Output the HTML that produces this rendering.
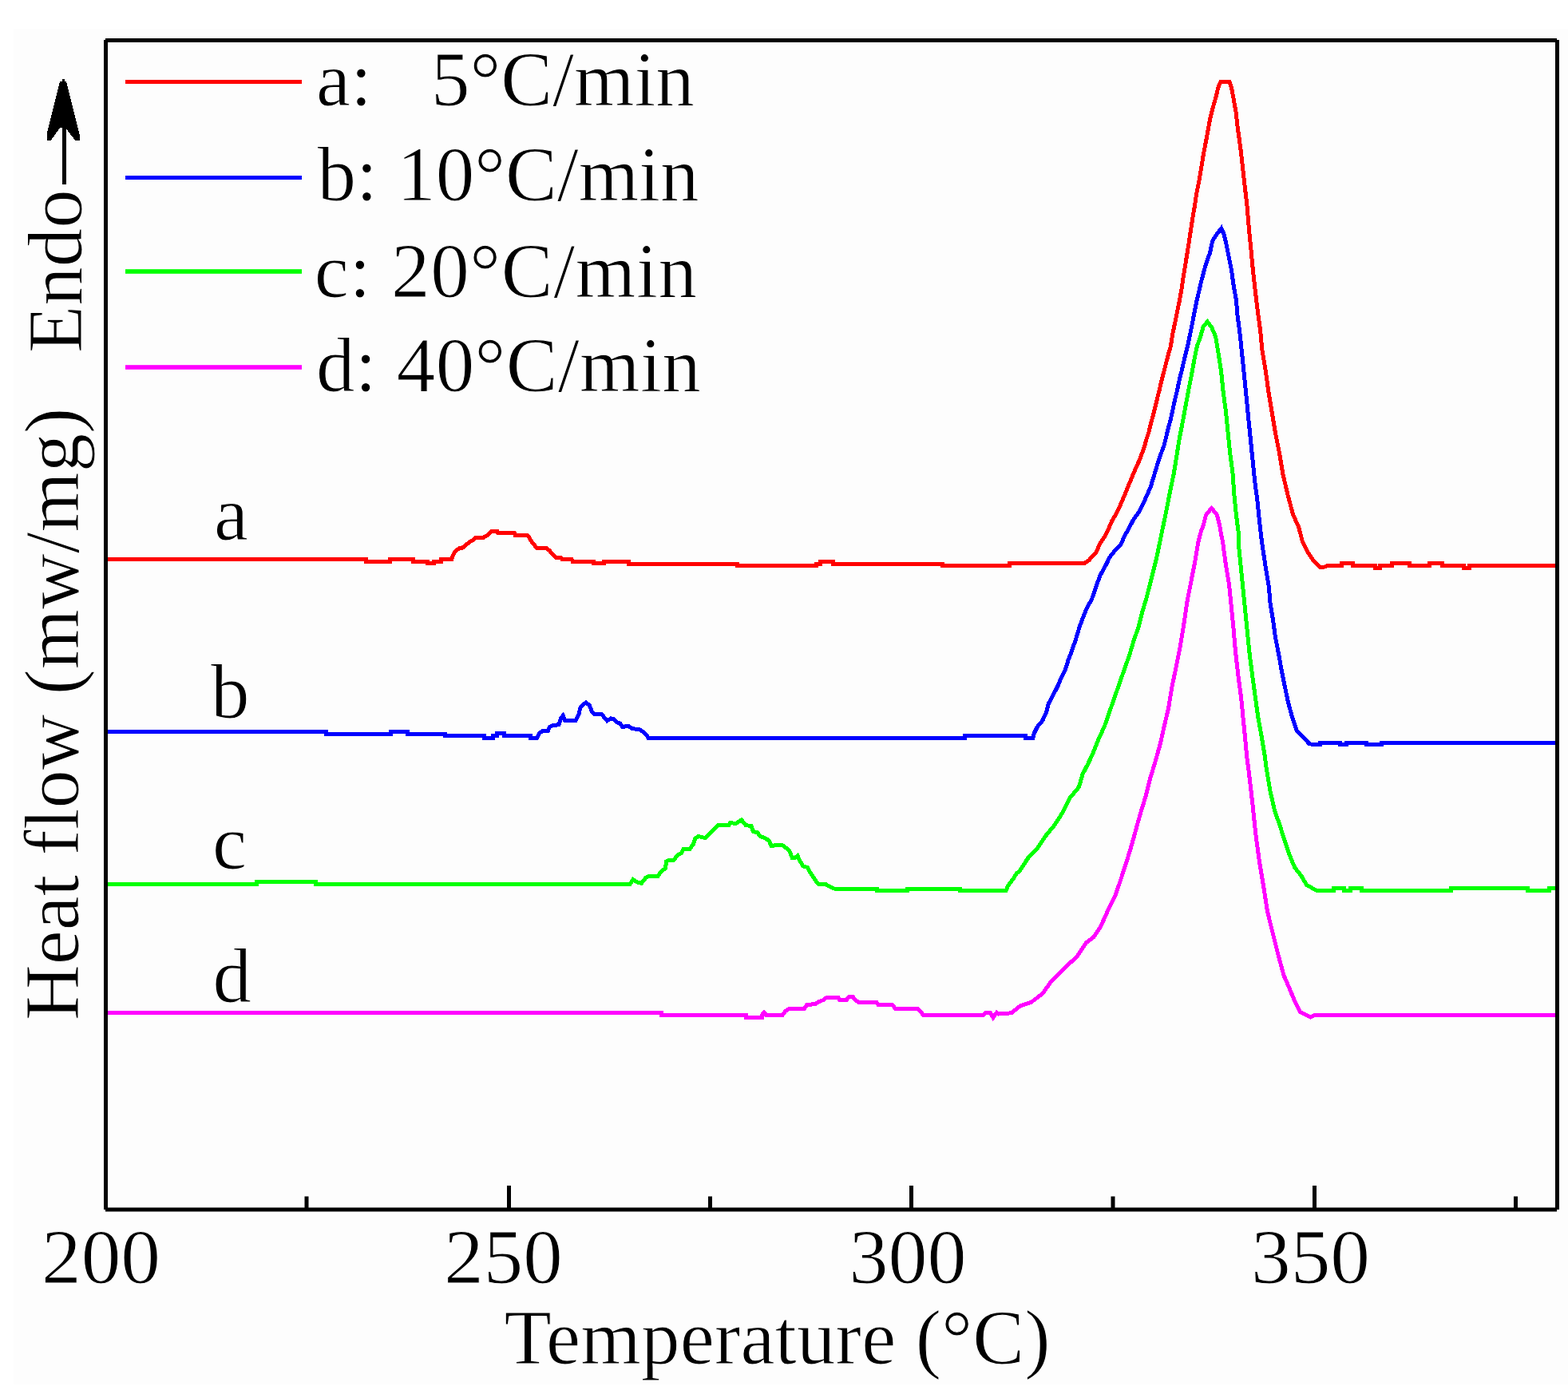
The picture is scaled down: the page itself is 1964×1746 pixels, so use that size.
<!DOCTYPE html>
<html><head><meta charset="utf-8"><title>DSC curves</title>
<style>
html,body{margin:0;padding:0;background:#fff;}
body{width:1964px;height:1746px;overflow:hidden;position:relative;}
svg{position:absolute;left:0;top:0;display:block;}
svg text{font-family:'Liberation Serif','Times New Roman',serif;font-size:97px;fill:#000;stroke:#fdfdfd;stroke-width:1px;paint-order:fill;}
</style></head><body>
<svg width="1964" height="1746" viewBox="0 0 1964 1746">
<rect x="0" y="0" width="1964" height="1746" fill="#ffffff"/>
<rect x="17" y="36" width="1947" height="1698" fill="#fdfdfd"/>
<g fill="none" stroke-width="5" stroke-linejoin="miter" stroke-linecap="butt" shape-rendering="crispEdges">
<path d="M132.0,700.5L458.5,700.5L458.5,703.2L488.0,703.2L488.0,700.5L517.0,700.5L517.0,703.3L535.0,703.3L535.0,705.6L543.0,705.6L543.0,703.3L552.6,703.3L552.6,700.6L565.6,700.6L567.3,695.4L570.8,689.8L575.1,686.8L578.6,686.8L582.9,682.9L588.1,679.0L593.3,676.0L595.9,673.4L605.4,673.4L609.7,670.8L613.2,667.7L615.8,665.1L622.7,665.1L623.6,667.7L644.3,667.7L645.2,670.5L660.8,670.5L663.4,674.2L666.4,679.4L670.3,683.8L672.9,686.8L685.0,686.8L688.5,689.8L692.0,694.1L696.3,698.0L702.3,698.0L704.1,700.6L716.2,700.6L717.9,703.2L717.9,703.3L743.6,703.3L743.6,705.6L756.9,705.6L756.9,703.3L787.0,703.3L787.0,706.0L923.6,706.0L923.6,708.7L1022.4,708.7L1022.4,706.0L1027.0,706.0L1027.0,703.2L1043.7,703.2L1043.7,706.0L1180.7,706.0L1180.7,708.8L1264.7,708.8L1264.7,705.9L1357.6,705.9L1363.9,701.9L1367.0,697.8L1373.1,691.6L1377.7,681.0L1383.8,671.8L1388.4,662.6L1393.0,652.0L1397.6,644.3L1402.2,635.1L1406.7,624.4L1411.3,613.7L1419.5,593.4L1427.3,576.2L1433.3,560.0L1436.0,550.0L1439.0,541.0L1441.4,531.0L1444.4,520.0L1447.2,509.0L1449.8,498.0L1452.6,487.0L1455.1,476.0L1458.0,465.0L1460.8,454.0L1463.6,443.0L1466.3,434.0L1468.9,417.6L1471.8,404.0L1474.3,391.5L1477.1,378.0L1480.0,362.0L1482.5,345.0L1485.3,328.0L1487.9,312.0L1490.8,293.0L1493.4,275.9L1496.3,258.7L1498.9,241.5L1502.0,226.0L1504.6,210.6L1507.1,195.1L1510.0,179.7L1512.6,165.9L1515.7,148.7L1519.2,135.0L1522.6,123.0L1526.0,109.2L1529.0,102.5L1540.0,102.5L1542.4,109.2L1545.0,123.0L1548.0,140.1L1550.1,159.0L1553.5,183.1L1556.1,205.4L1558.7,229.5L1561.8,255.3L1564.2,284.5L1566.9,312.0L1569.5,339.5L1572.4,365.2L1575.0,387.2L1578.5,413.0L1581.0,438.7L1585.3,464.5L1588.8,490.3L1593.1,516.0L1597.4,541.8L1602.5,567.6L1606.8,593.4L1612.8,619.1L1619.7,644.9L1626.7,660.0L1631.2,677.8L1638.3,692.1L1645.5,702.8L1653.5,710.8L1659.7,709.9L1663.3,708.4L1663.3,708.4L1680.4,708.4L1680.4,705.5L1694.8,705.5L1694.8,708.4L1722.0,708.4L1722.0,711.3L1728.3,711.3L1728.3,708.4L1743.5,708.4L1743.5,705.5L1765.9,705.5L1765.9,708.4L1790.7,708.4L1790.7,705.5L1806.7,705.5L1806.7,708.4L1833.9,708.4L1833.9,711.3L1840.2,711.3L1840.2,708.4L1950.0,708.4" stroke="#ff0000"/>
<path d="M132.0,916.2L408.6,916.2L408.6,919.1L489.2,919.1L489.2,916.2L510.0,916.2L510.0,919.1L557.7,919.1L557.7,921.8L606.4,921.8L606.4,924.4L617.8,924.4L617.8,921.6L622.8,921.6L622.8,918.5L631.3,918.5L631.3,921.6L664.1,921.6L664.1,924.4L672.7,924.4L675.5,918.5L679.8,915.6L686.2,915.6L688.4,910.6L692.6,908.5L699.8,907.8L702.6,899.9L705.2,896.4L707.6,902.1L721.1,902.1L724.7,895.6L726.9,886.4L729.7,882.8L734.0,880.0L738.3,883.5L741.1,890.7L744.0,894.2L753.2,894.2L756.8,898.5L760.4,902.8L765.3,899.9L768.2,900.6L771.8,904.2L776.7,906.3L779.6,910.6L786.7,909.2L792.4,912.8L800.3,913.5L805.3,916.3L809.5,920.6L812.4,924.4L812.4,924.6L1208.5,924.6L1208.5,921.8L1284.7,921.8L1284.7,924.6L1293.6,924.6L1295.5,918.0L1299.3,910.4L1305.7,902.7L1310.8,891.3L1313.3,881.1L1317.1,874.7L1320.9,867.1L1324.8,859.5L1328.6,850.6L1332.4,842.9L1335.6,835.3L1338.1,826.4L1340.7,820.0L1346.9,802.6L1352.3,784.8L1357.6,770.5L1362.1,759.8L1367.4,750.9L1372.8,734.9L1378.1,720.6L1385.3,707.5L1390.0,697.8L1396.0,690.1L1403.7,682.5L1408.3,671.8L1414.4,661.1L1419.0,652.0L1426.6,641.2L1433.3,627.7L1441.0,610.5L1446.2,593.4L1451.3,576.2L1455.0,566.0L1458.0,558.0L1460.8,547.0L1463.3,536.0L1466.3,525.5L1469.0,513.0L1471.5,501.0L1474.5,489.0L1477.2,476.0L1480.0,465.0L1482.5,454.0L1485.4,442.0L1487.9,432.0L1491.0,417.0L1493.6,404.0L1496.3,390.0L1499.0,376.5L1501.9,364.5L1504.5,353.0L1507.4,342.0L1510.0,332.5L1512.7,324.0L1515.4,317.1L1518.8,301.6L1524.3,293.0L1529.8,286.0L1532.9,293.0L1535.5,303.4L1538.9,320.5L1542.4,337.7L1545.0,356.6L1548.4,375.5L1550.1,395.8L1553.5,421.5L1556.1,447.3L1558.7,473.1L1561.3,498.9L1563.8,524.6L1566.4,550.4L1569.0,576.2L1571.6,602.0L1575.0,627.7L1577.6,653.5L1580.4,677.8L1584.9,708.1L1589.3,734.9L1591.1,756.2L1594.7,777.6L1597.3,797.2L1601.8,820.4L1605.3,840.0L1608.9,857.8L1613.4,879.2L1618.7,898.8L1624.1,914.9L1633.0,923.8L1640.1,931.8L1649.0,932.7L1653.2,932.7L1653.2,930.0L1678.0,930.0L1678.0,932.7L1686.0,932.7L1686.0,930.0L1711.5,930.0L1711.5,932.7L1730.0,932.7L1730.0,930.0L1950.0,930.0" stroke="#0000ff"/>
<path d="M132.0,1107.5L321.4,1107.5L321.4,1104.4L395.8,1104.4L395.8,1107.5L789.0,1107.5L792.8,1101.6L798.2,1105.0L803.5,1106.2L808.9,1099.4L813.5,1097.1L824.2,1097.1L828.7,1091.0L833.3,1087.9L834.8,1078.7L837.9,1077.2L844.0,1077.2L848.6,1071.1L853.2,1068.8L856.2,1063.5L863.9,1063.5L868.4,1057.4L870.7,1050.5L874.6,1047.4L883.7,1049.7L886.8,1045.9L892.9,1039.8L899.0,1033.7L912.7,1033.7L914.3,1030.6L921.9,1031.4L928.8,1026.8L934.1,1033.7L941.0,1034.4L943.3,1041.3L948.6,1042.8L952.5,1047.4L958.6,1050.0L963.1,1052.8L966.2,1059.6L970.0,1058.9L980.0,1058.6L984.5,1061.9L989.1,1066.5L992.2,1074.2L996.0,1074.2L999.0,1071.9L1002.1,1078.7L1005.9,1084.8L1011.3,1086.4L1015.1,1093.2L1018.9,1098.6L1022.7,1104.7L1025.8,1107.8L1034.9,1107.8L1039.5,1110.8L1045.0,1113.0L1045.0,1113.0L1098.7,1113.0L1098.7,1115.7L1136.5,1115.7L1136.5,1113.0L1202.5,1113.0L1202.5,1115.7L1260.0,1115.7L1262.4,1109.6L1266.1,1104.7L1269.7,1099.8L1273.4,1093.7L1277.1,1091.2L1287.3,1075.2L1298.7,1063.7L1309.1,1047.7L1320.5,1034.0L1330.8,1017.9L1340.0,999.6L1351.4,985.8L1356.0,969.8L1362.1,958.0L1368.3,945.2L1375.4,927.3L1383.5,909.5L1389.7,891.7L1395.9,873.9L1402.2,856.0L1408.4,838.2L1414.7,820.4L1420.0,802.6L1426.2,784.8L1430.7,766.9L1436.0,749.1L1440.5,731.3L1445.0,713.5L1449.4,695.6L1453.0,677.8L1455.6,665.0L1457.0,658.7L1461.6,636.3L1465.9,614.0L1470.2,593.4L1473.6,572.7L1477.1,550.4L1481.4,528.1L1485.2,507.5L1489.1,486.8L1493.1,466.2L1496.5,447.3L1499.4,433.6L1503.7,421.5L1507.1,409.5L1512.3,403.0L1517.5,409.5L1522.6,421.5L1526.0,442.2L1529.5,464.5L1532.1,490.3L1535.5,516.0L1538.1,541.8L1540.7,567.6L1544.1,593.4L1545.8,619.1L1548.4,644.9L1551.0,665.0L1551.9,686.7L1554.6,713.5L1557.2,740.2L1559.9,766.9L1562.6,793.7L1565.3,820.4L1568.8,847.1L1572.4,873.9L1575.9,898.8L1580.4,923.8L1584.0,945.2L1586.3,962.9L1590.9,990.4L1596.6,1015.6L1602.4,1031.7L1608.1,1050.0L1615.0,1070.6L1621.8,1086.7L1629.9,1097.0L1636.7,1108.4L1644.8,1113.0L1650.0,1115.8L1650.0,1115.8L1670.0,1115.8L1670.0,1112.9L1683.6,1112.9L1683.6,1115.8L1691.6,1115.8L1691.6,1112.9L1705.2,1112.9L1705.2,1115.8L1817.0,1115.8L1817.0,1112.9L1913.0,1112.9L1913.0,1115.8L1940.0,1115.8L1940.0,1112.9L1950.0,1112.9" stroke="#00ff00"/>
<path d="M132.0,1268.9L828.6,1268.9L828.6,1271.5L934.8,1271.5L934.8,1274.0L954.4,1274.0L954.4,1271.3L957.0,1268.3L959.7,1271.3L980.2,1271.3L983.8,1266.5L989.1,1263.0L1007.8,1263.0L1010.5,1258.5L1021.2,1257.6L1024.8,1255.0L1031.9,1252.3L1035.4,1249.2L1049.7,1249.2L1051.5,1252.3L1060.4,1252.3L1063.1,1248.7L1068.4,1248.7L1071.1,1252.3L1074.7,1255.0L1097.8,1255.0L1099.6,1258.0L1117.4,1258.0L1121.0,1263.0L1149.5,1263.0L1153.1,1267.4L1156.6,1271.3L1231.5,1271.3L1235.1,1268.3L1240.4,1268.3L1244.0,1274.6L1248.4,1268.3L1250.6,1270.0L1266.7,1268.8L1278.1,1259.7L1291.9,1255.1L1305.6,1244.8L1317.1,1228.7L1330.8,1215.0L1349.2,1197.8L1360.6,1180.6L1369.8,1173.7L1378.9,1160.0L1388.1,1139.4L1397.3,1121.0L1404.2,1100.4L1411.0,1079.8L1417.9,1056.9L1423.6,1036.2L1429.4,1015.6L1435.1,997.3L1440.8,974.4L1446.5,956.0L1453.0,932.7L1458.3,909.5L1463.7,886.3L1468.1,859.6L1472.6,838.2L1477.9,811.5L1482.4,784.8L1486.8,754.5L1491.3,731.3L1496.6,704.6L1501.1,677.8L1504.6,665.0L1507.1,658.7L1510.6,644.9L1517.5,636.5L1524.3,644.9L1527.8,658.7L1529.5,669.0L1531.4,677.8L1535.0,704.6L1539.4,731.3L1542.1,758.0L1544.8,784.8L1547.4,815.0L1551.0,847.1L1554.6,873.9L1557.2,900.6L1559.9,927.3L1561.4,945.0L1564.6,969.8L1569.1,1008.7L1572.6,1043.1L1577.2,1077.5L1582.9,1111.9L1587.5,1141.7L1594.3,1169.1L1601.2,1196.6L1608.1,1221.9L1615.0,1237.9L1621.8,1253.9L1628.7,1267.7L1641.3,1274.1L1647.0,1271.3L1950.0,1271.3" stroke="#ff00ff"/>
</g>
<!-- legend lines -->
<rect x="157" y="100" width="221" height="5" fill="#ff0000"/>
<rect x="157" y="220" width="221" height="5" fill="#0000ff"/>
<rect x="157" y="337.2" width="221" height="5.6" fill="#00ff00"/>
<rect x="157" y="457.2" width="221" height="5.6" fill="#ff00ff"/>
<!-- frame -->
<g fill="#000">
<rect x="132" y="48" width="1818" height="5"/>
<rect x="130" y="50" width="5" height="1465"/>
<rect x="1948" y="50" width="5" height="1465"/>
<rect x="132" y="1512.5" width="1818" height="5"/>
</g>
<!-- ticks -->
<g fill="#000">
<rect x="635" y="1485" width="5" height="28"/>
<rect x="1139" y="1485" width="5" height="28"/>
<rect x="1644" y="1485" width="5" height="28"/>
<rect x="381.5" y="1498.5" width="5" height="15"/>
<rect x="887" y="1498.5" width="5" height="15"/>
<rect x="1391.5" y="1498.5" width="5" height="15"/>
<rect x="1896" y="1498.5" width="5" height="15"/>
</g>
<!-- tick labels -->
<g style="font-size:98px" text-anchor="middle">
<text transform="translate(126.5,1607) scale(1.025,1)">200</text>
<text transform="translate(630.5,1607) scale(1.02,1)">250</text>
<text transform="translate(1137,1607) scale(1.01,1)">300</text>
<text transform="translate(1641.5,1607) scale(1.025,1)">350</text>
</g>
<text x="631.4" y="1708" style="letter-spacing:0.21px">Temperature (°C)</text>
<!-- y label -->
<text transform="translate(98,1278) rotate(-90)" style="font-size:96.6px">Heat flow (mw/mg)</text>
<text transform="translate(101.5,442) rotate(-90)">Endo</text>
<path d="M77.6,99 L80.6,99 L80.6,101.5 L83,101.5 L99.5,168 L99.5,175.5 L94,175.5 L83,161.5 L83,230.5 L78,230.5 L78,159.5 L75.5,159.5 L64,175.5 L58.5,175.5 L58.5,168 L75.2,101.5 L77.6,101.5 Z" fill="#000" shape-rendering="crispEdges"/>
<!-- legend text -->
<text x="396" y="132">a:</text>
<text x="540" y="132">5°C/min</text>
<text x="397.5" y="251">b: 10°C/min</text>
<text x="393.8" y="372" style="letter-spacing:0.66px">c: 20°C/min</text>
<text x="396" y="489.5" style="letter-spacing:0.37px">d: 40°C/min</text>
<!-- curve labels -->
<text x="268" y="676">a</text>
<text x="264" y="899">b</text>
<text x="266" y="1087.5">c</text>
<text x="266.5" y="1254.5">d</text>
</svg>
</body></html>
